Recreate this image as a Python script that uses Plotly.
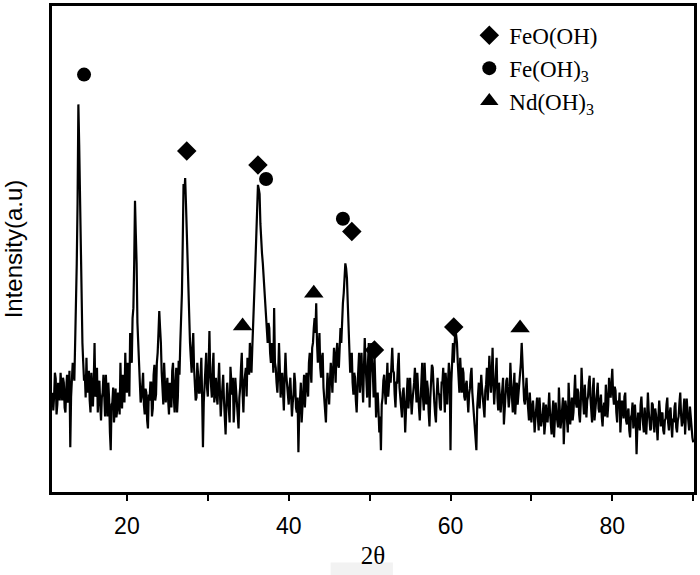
import plotly.graph_objects as go

# 2-theta grid: start and step (degrees)
two_theta_start = 10.8
two_theta_step = 0.1

# Intensity (a.u.), one value per grid point (rows = 1 degree)
intensity = [
    100, 82,                                                   # 10.8-10.9
    96, 120, 114, 78, 88, 110, 106, 92, 120, 98,               # 11
    92, 115, 110, 85, 80, 104, 118, 90, 100, 122,              # 12
    45, 96, 108, 130, 125, 112, 150, 180, 230, 290,            # 13
    390, 350, 300, 240, 170, 150, 130, 112, 118, 95,           # 14
    135, 100, 105, 122, 92, 80, 120, 100, 86, 112,             # 15
    150, 96, 98, 125, 80, 104, 112, 88, 72, 95,                # 16
    100, 118, 88, 76, 118, 95, 76, 110, 94, 60,                # 17
    42, 88, 90, 105, 70, 82, 104, 75, 82, 100,                 # 18
    96, 78, 130, 95, 84, 118, 110, 90, 140, 105,               # 19
    100, 130, 125, 96, 160, 140, 130, 175, 185, 230,           # 20
    293, 260, 230, 170, 150, 125, 112, 90, 95, 118,            # 21
    120, 88, 78, 104, 100, 72, 64, 98, 92, 110,                # 22
    110, 76, 84, 118, 128, 92, 98, 130, 140, 160,              # 23
    182, 165, 150, 120, 105, 88, 130, 115, 90, 104,            # 24
    115, 92, 78, 110, 100, 85, 122, 130, 95, 80,               # 25
    108, 125, 80, 96, 132, 118, 150, 175, 200, 250,            # 26
    310, 300, 316, 290, 260, 220, 190, 170, 150, 135,          # 27
    120, 145, 160, 125, 110, 92, 95, 130, 118, 100,            # 28
    100, 118, 135, 95, 45, 90, 112, 130, 140, 105,             # 29
    96, 125, 162, 120, 108, 95, 125, 140, 90, 112,             # 30
    115, 96, 88, 110, 130, 100, 76, 92, 104, 118,              # 31
    92, 80, 58, 88, 110, 96, 84, 70, 126, 105,                 # 32
    98, 115, 70, 88, 115, 102, 90, 78, 64, 95,                 # 33
    105, 125, 140, 100, 80, 110, 118, 125, 96, 135,            # 34
    130, 118, 150, 135, 120, 145, 165, 180, 210, 235,          # 35
    260, 285, 309, 305, 300, 270, 250, 240, 230, 215,          # 36
    200, 185, 175, 160, 150, 170, 165, 140, 130, 150,          # 37
    145, 120, 185, 130, 125, 110, 100, 118, 150, 125,          # 38
    95, 110, 120, 100, 82, 115, 140, 118, 104, 92,             # 39
    88, 105, 115, 96, 76, 90, 98, 120, 110, 85,                # 40
    80, 95, 40, 78, 92, 110, 70, 88, 104, 118,                 # 41
    85, 100, 120, 110, 96, 130, 140, 125, 110, 145,            # 42
    150, 165, 175, 160, 190, 150, 130, 145, 160, 125,          # 43
    115, 135, 140, 105, 95, 82, 70, 100, 120, 104,             # 44
    88, 112, 130, 118, 100, 125, 145, 130, 110, 140,           # 45
    150, 128, 125, 145, 165, 150, 180, 190, 200, 215,          # 46
    230, 225, 215, 190, 160, 140, 120, 135, 140, 110,          # 47
    98, 120, 115, 92, 80, 105, 125, 140, 100, 118,             # 48
    140, 110, 90, 125, 155, 130, 110, 95, 130, 150,            # 49
    85, 118, 150, 130, 120, 95, 138, 110, 75, 92,              # 50
    100, 82, 60, 76, 42, 88, 95, 112, 118, 100,                # 51
    88, 110, 130, 96, 105, 120, 110, 132, 145, 122,            # 52
    120, 98, 85, 110, 110, 128, 140, 105, 92, 80,              # 53
    75, 100, 105, 88, 60, 82, 98, 115, 84, 102,                # 54
    115, 96, 78, 92, 100, 110, 125, 95, 90, 120,               # 55
    108, 85, 72, 98, 118, 130, 95, 82, 130, 108,               # 56
    88, 112, 104, 80, 66, 94, 112, 128, 125, 100,              # 57
    90, 78, 70, 98, 115, 100, 98, 85, 82, 110,                 # 58
    110, 125, 95, 80, 120, 105, 88, 112, 130, 118,             # 59
    42, 110, 140, 150, 130, 145, 163, 158, 150, 130,           # 60
    118, 100, 135, 112, 100, 125, 120, 96, 92, 108,            # 61
    112, 95, 80, 98, 104, 118, 125, 100, 90, 75,               # 62
    70, 58, 42, 85, 100, 110, 84, 96, 118, 104,                # 63
    95, 80, 75, 102, 108, 125, 92, 110, 137, 120,              # 64
    100, 118, 145, 110, 88, 104, 120, 135, 95, 82,             # 65
    110, 98, 80, 92, 102, 115, 68, 85, 96, 112,                # 66
    115, 100, 85, 95, 130, 110, 92, 80, 105, 120,              # 67
    78, 95, 110, 88, 98, 112, 120, 130, 150, 125,              # 68
    105, 92, 88, 100, 115, 95, 80, 72, 100, 88,                # 69
    70, 85, 92, 78, 60, 74, 85, 95, 75, 62,                    # 70
    95, 80, 66, 72, 78, 90, 58, 68, 88, 75,                    # 71
    70, 84, 100, 80, 62, 58, 80, 92, 55, 70,                   # 72
    90, 78, 72, 65, 105, 88, 64, 72, 84, 95,                   # 73
    48, 70, 92, 85, 76, 60, 110, 88, 68, 82,                   # 74
    95, 72, 80, 98, 118, 90, 85, 104, 100, 78,                 # 75
    70, 88, 125, 105, 90, 78, 108, 96, 75, 92,                 # 76
    96, 110, 117, 95, 82, 70, 104, 115, 72, 88,                # 77
    92, 100, 110, 84, 80, 92, 98, 75, 66, 85,                  # 78
    90, 76, 108, 95, 75, 88, 115, 100, 95, 110,                # 79
    124, 98, 88, 106, 102, 80, 70, 92, 85, 100,                # 80
    60, 78, 92, 84, 74, 96, 100, 72, 68, 80,                   # 81
    84, 62, 55, 75, 78, 90, 64, 70, 88, 72,                    # 82
    38, 65, 80, 72, 62, 88, 96, 78, 70, 60,                    # 83
    85, 68, 58, 76, 100, 82, 72, 62, 64, 90,                   # 84
    88, 70, 60, 84, 78, 66, 52, 75, 92, 80,                    # 85
    66, 78, 80, 62, 58, 72, 74, 88, 95, 70,                    # 86
    62, 80, 85, 68, 55, 74, 70, 86, 90, 65,                    # 87
    60, 72, 76, 90, 100, 78, 66, 70, 82, 94,                   # 88
    58, 75, 94, 80, 70, 62, 86, 74, 62, 55,                    # 89
    50,                                                        # 90.0
]
two_theta = [round(two_theta_start + i * two_theta_step, 2) for i in range(len(intensity))]

# Phase markers (2-theta, marker height)
feooh_x = [27.4, 36.2, 47.8, 50.6, 60.4]
feooh_y = [343, 329, 262, 143, 166]
feoh3_x = [14.7, 37.2, 46.7]
feoh3_y = [420, 315, 275]
ndoh3_x = [34.3, 43.1, 68.6]
ndoh3_y = [167, 200, 165]

fig = go.Figure()
fig.add_trace(go.Scatter(x=two_theta, y=intensity, mode="lines",
                         line=dict(color="black", width=2.2), showlegend=False,
                         hoverinfo="skip"))
fig.add_trace(go.Scatter(x=feooh_x, y=feooh_y, mode="markers", name="FeO(OH)",
                         marker=dict(symbol="diamond", size=15, color="black")))
fig.add_trace(go.Scatter(x=feoh3_x, y=feoh3_y, mode="markers", name="Fe(OH)<sub>3</sub>",
                         marker=dict(symbol="circle", size=14, color="black")))
fig.add_trace(go.Scatter(x=ndoh3_x, y=ndoh3_y, mode="markers", name="Nd(OH)<sub>3</sub>",
                         marker=dict(symbol="triangle-up", size=17, color="black")))

fig.update_layout(
    width=700, height=575,
    margin=dict(l=52, r=5, t=3, b=83),
    paper_bgcolor="white", plot_bgcolor="white",
    showlegend=True,
    legend=dict(x=0.65, y=0.984, xanchor="left", yanchor="top",
                font=dict(family="Liberation Serif", size=23, color="black"),
                bgcolor="rgba(0,0,0,0)", itemsizing="trace", tracegroupgap=0),
    xaxis=dict(range=[10.74, 90.1], tick0=0, dtick=20,
               ticks="outside", ticklen=6, tickwidth=2, tickcolor="black",
               minor=dict(dtick=10, tick0=0, ticks="outside", ticklen=6,
                          tickwidth=2, tickcolor="black", showgrid=False),
               showline=True, linecolor="black", linewidth=2.5, mirror=True,
               showgrid=False, zeroline=False, ticklabelstandoff=6,
               tickfont=dict(family="Liberation Sans", size=23, color="black"),
               title=dict(text="2θ", standoff=9,
                          font=dict(family="Liberation Serif", size=25, color="black"))),
    yaxis=dict(range=[0, 489], showticklabels=False, ticks="",
               showline=True, linecolor="black", linewidth=2.5, mirror=True,
               showgrid=False, zeroline=False,
               title=dict(text="Intensity(a.u)", standoff=29,
                          font=dict(family="Liberation Sans", size=24, color="black"))),
    shapes=[dict(type="rect", xref="paper", yref="paper",
                 x0=0.434, x1=0.531, y0=-0.171, y1=-0.145,
                 fillcolor="#f2f2f2", line=dict(width=0), layer="below")],
)

fig.write_html("out.html")
